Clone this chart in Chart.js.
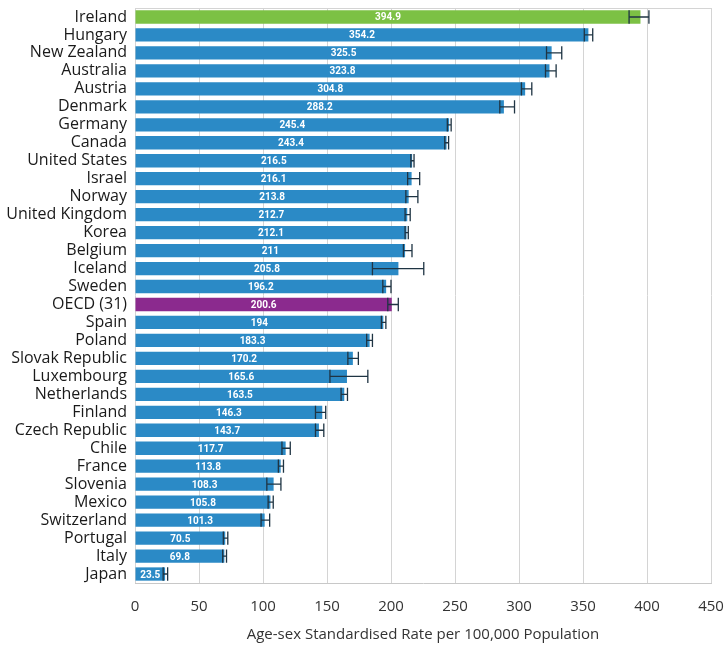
<!DOCTYPE html>
<html>
<head>
<meta charset="utf-8">
<script src="https://cdn.jsdelivr.net/npm/chart.js@4.4.0/dist/chart.umd.min.js"></script>
<style>
  html, body { margin: 0; padding: 0; background: #fff; }
  #wrap { width: 728px; height: 647px; }
</style>
</head>
<body>
<div id="wrap"><canvas id="myChart"></canvas></div>
<script>
var countries = ['Ireland', 'Hungary', 'New Zealand', 'Australia', 'Austria', 'Denmark', 'Germany', 'Canada',
    'United States', 'Israel', 'Norway', 'United Kingdom', 'Korea', 'Belgium', 'Iceland', 'Sweden',
    'OECD (31)', 'Spain', 'Poland', 'Slovak Republic', 'Luxembourg', 'Netherlands', 'Finland',
    'Czech Republic', 'Chile', 'France', 'Slovenia', 'Mexico', 'Switzerland', 'Portugal', 'Italy', 'Japan'];
var rates = [394.9, 354.2, 325.5, 323.8, 304.8, 288.2, 245.4, 243.4,
    216.5, 216.1, 213.8, 212.7, 212.1, 211, 205.8, 196.2,
    200.6, 194, 183.3, 170.2, 165.6, 163.5, 146.3,
    143.7, 117.7, 113.8, 108.3, 105.8, 101.3, 70.5, 69.8, 23.5];
var errLow = [386, 351, 321.5, 320.7, 301.9, 285, 244, 242,
    215.5, 213, 211.6, 211, 211, 209.7, 185.5, 193.6,
    197.5, 192.5, 181, 166.3, 152.3, 161, 141,
    141, 114.8, 112, 103, 104, 98.5, 69, 68.5, 22];
var errHigh = [401.5, 357.6, 333.4, 329, 310, 296.5, 247, 245,
    218, 222.4, 221, 215, 213.5, 216.4, 225.6, 200,
    205.7, 196, 185.5, 174.5, 181.9, 166, 149,
    147.5, 121.3, 116, 114, 108, 105.2, 72.5, 71.5, 25.5];
var xTicks = [0, 50, 100, 150, 200, 250, 300, 350, 400, 450];

var barColors = countries.map(function (c) {
    if (c === 'Ireland') return '#7cc144';
    if (c === 'OECD (31)') return '#8b2a8e';
    return '#2b8ac6';
});

var ctx = document.getElementById('myChart').getContext('2d');

var frameAndErrorPlugin = {
    id: 'frameAndError',
    beforeDatasetsDraw: function (chart) {
        var ctx = chart.ctx;
        var a = chart.chartArea;
        ctx.save();
        ctx.strokeStyle = '#d4d4d4';
        ctx.lineWidth = 1;
        ctx.beginPath();
        ctx.moveTo(a.left, a.top + 0.5);
        ctx.lineTo(a.right, a.top + 0.5);
        ctx.stroke();
        ctx.restore();
    },
    afterDatasetsDraw: function (chart) {
        var ctx = chart.ctx;
        var xScale = chart.scales.x;
        var meta = chart.getDatasetMeta(0);
        ctx.save();
        meta.data.forEach(function (bar, i) {
            var y = bar.y;
            var h = bar.height;
            var x1 = xScale.getPixelForValue(errLow[i]);
            var x2 = xScale.getPixelForValue(errHigh[i]);
            ctx.strokeStyle = '#1f3443';
            ctx.lineWidth = 1.3;
            ctx.beginPath();
            ctx.moveTo(x1, y);
            ctx.lineTo(x2, y);
            ctx.moveTo(x1, y - h / 2);
            ctx.lineTo(x1, y + h / 2);
            ctx.moveTo(x2, y - h / 2);
            ctx.lineTo(x2, y + h / 2);
            ctx.stroke();

            ctx.fillStyle = '#ffffff';
            ctx.font = 'bold 10px Roboto';
            ctx.textAlign = 'center';
            ctx.textBaseline = 'middle';
            var xMid = (bar.x + bar.base) / 2;
            ctx.fillText(rates[i].toString(), xMid, y + 1);
        });
        ctx.restore();
    }
};

var myChart = new Chart(ctx, {
    type: 'bar',
    data: {
        labels: countries,
        datasets: [{
            data: rates,
            backgroundColor: barColors,
            borderWidth: 0,
            barPercentage: 0.74,
            categoryPercentage: 1
        }]
    },
    options: {
        indexAxis: 'y',
        responsive: true,
        maintainAspectRatio: false,
        animation: false,
        layout: { padding: { top: 8, right: 17, left: 0, bottom: 0 } },
        plugins: {
            legend: { display: false },
            tooltip: { enabled: false }
        },
        scales: {
            x: {
                min: 0,
                max: 450,
                afterBuildTicks: function (scale) {
                    scale.ticks = xTicks.map(function (v) { return { value: v }; });
                },
                afterFit: function (scale) {
                    scale.height = 64;
                    scale.paddingLeft = 0;
                    scale.paddingRight = 0;
                },
                grid: { color: '#d4d4d4', drawTicks: false },
                border: { color: '#c8c8c8' },
                ticks: {
                    padding: 15,
                    color: '#333333',
                    font: { family: 'Open Sans', size: 15 }
                },
                title: {
                    display: true,
                    text: 'Age-sex Standardised Rate per 100,000 Population',
                    color: '#333333',
                    padding: { top: 4, bottom: 3 },
                    font: { family: 'Open Sans', size: 15 }
                }
            },
            y: {
                afterFit: function (scale) {
                    scale.width = 135;
                    scale.paddingTop = 0;
                    scale.paddingBottom = 0;
                },
                grid: { display: false, drawTicks: false },
                border: { display: false },
                ticks: {
                    padding: 8,
                    autoSkip: false,
                    color: '#1a1a1a',
                    font: { family: 'Open Sans', size: 16 }
                }
            }
        }
    },
    plugins: [frameAndErrorPlugin]
});
</script>
</body>
</html>
